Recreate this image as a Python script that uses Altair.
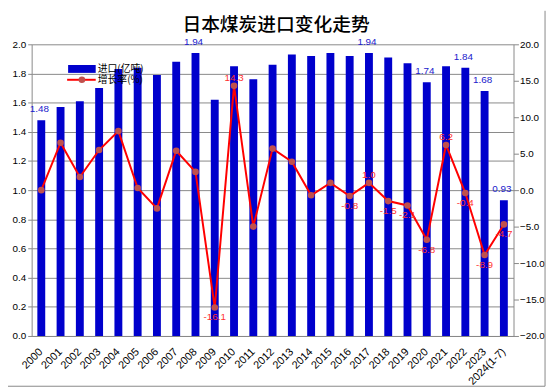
import altair as alt
import pandas as pd

years = ["2000", "2001", "2002", "2003", "2004", "2005", "2006", "2007", "2008", "2009",
         "2010", "2011", "2012", "2013", "2014", "2015", "2016", "2017", "2018", "2019",
         "2020", "2021", "2022", "2023", "2024(1-7)"]
imports = [1.48, 1.57, 1.61, 1.70, 1.83, 1.84, 1.79, 1.88, 1.94, 1.62,
           1.85, 1.76, 1.86, 1.93, 1.92, 1.94, 1.92, 1.94, 1.91, 1.87,
           1.74, 1.85, 1.84, 1.68, 0.93]
growth = [0.0, 6.5, 1.8, 5.5, 8.1, 0.3, -2.5, 5.4, 2.5, -16.1,
          14.3, -5.0, 5.7, 3.9, -0.7, 1.0, -0.8, 1.0, -1.5, -2.1,
          -6.8, 6.2, -0.4, -8.9, -4.7]
import_labels = ["1.48", "", "", "", "", "", "", "", "1.94", "",
                 "", "", "", "", "", "", "", "1.94", "", "",
                 "1.74", "", "1.84", "1.68", "0.93"]
growth_labels = ["", "", "", "", "", "", "", "", "", "-16.1",
                 "14.3", "", "", "", "", "", "-0.8", "1.0", "-1.5", "-2.1",
                 "-6.8", "6.2", "-0.4", "-8.9", "-4.7"]

title_text = "日本煤炭进口变化走势"
legend_bar = "进口(亿吨)"
legend_line = "增长率(%)"

df = pd.DataFrame({
    "year": years,
    "imp": imports,
    "growth": growth,
    "ilabel": import_labels,
    "glabel": growth_labels,
})

W, H = 489, 296
FONT = "Liberation Sans"
CJK = "Noto Sans CJK SC"
GRAY = "#888888"
BLUE = "#0000CC"
RED = "#FF0000"

xenc = alt.X("year:N", sort=years, title=None,
             scale=alt.Scale(paddingInner=0, paddingOuter=0),
             axis=alt.Axis(labelAngle=-45, labelAlign="right", labelBaseline="middle",
                           labelPadding=14, ticks=False, domainColor=GRAY,
                           labelFont=FONT, labelFontSize=11, labelColor="#000000",
                           grid=False))

left_scale = alt.Scale(domain=[0, 2], nice=False, zero=True)
right_scale = alt.Scale(domain=[-20, 20], nice=False, zero=False)

base = alt.Chart(df).encode(x=xenc)

bars = base.mark_bar(color=BLUE, size=8).encode(
    y=alt.Y("imp:Q", scale=left_scale, title=None,
            axis=alt.Axis(orient="left", values=[round(i * 0.2, 1) for i in range(11)],
                          format=".1f", grid=True, gridColor=GRAY, gridOpacity=1,
                          domainColor=GRAY, tickColor=GRAY, tickSize=4, labelPadding=2,
                          labelFont=FONT, labelFontSize=10, labelColor="#000000"))
)

bar_text = base.mark_text(color="#2020CC", font=FONT, fontSize=10, baseline="bottom",
                          dx=-2, dy=-6).encode(
    y=alt.Y("imp:Q", scale=left_scale, axis=None),
    text="ilabel:N",
).transform_filter("datum.ilabel != ''")

line = base.mark_line(color=RED, strokeWidth=2).encode(
    y=alt.Y("growth:Q", scale=right_scale, title=None,
            axis=alt.Axis(orient="right", values=list(range(-20, 21, 5)), format=".1f",
                          grid=False, domainColor=GRAY, tickColor=GRAY, tickSize=5,
                          labelPadding=1, labelFont=FONT, labelFontSize=10,
                          labelColor="#000000"))
)

pts = base.mark_point(filled=True, size=45, color="#C0504D", opacity=1).encode(
    y=alt.Y("growth:Q", scale=right_scale, axis=None)
)

gtext_pos = base.mark_text(color="#FF3030", font=FONT, fontSize=10, baseline="bottom",
                           dy=-3).encode(
    y=alt.Y("growth:Q", scale=right_scale, axis=None),
    text="glabel:N",
).transform_filter("datum.glabel != '' && datum.growth >= 0")

gtext_neg = base.mark_text(color="#FF3030", font=FONT, fontSize=10, baseline="top",
                           dy=5).encode(
    y=alt.Y("growth:Q", scale=right_scale, axis=None),
    text="glabel:N",
).transform_filter("datum.glabel != '' && datum.growth < 0")

one = pd.DataFrame({"k": [0]})
deco = alt.Chart(one)

title = deco.mark_text(font=CJK, fontSize=19, fontWeight=500, color="#000000",
                       align="center", baseline="middle").encode(
    x=alt.value(248), y=alt.value(-19.5), text=alt.value(title_text))

leg_rect = deco.mark_rect(color=BLUE).encode(
    x=alt.value(37), x2=alt.value(65), y=alt.value(21), y2=alt.value(29))
leg_rule = deco.mark_rule(color=RED, strokeWidth=2).encode(
    x=alt.value(36), x2=alt.value(65), y=alt.value(36))
leg_pt = deco.mark_point(filled=True, size=45, color="#C0504D", opacity=1).encode(
    x=alt.value(51), y=alt.value(36))
leg_t1 = deco.mark_text(font=CJK, fontSize=10, color="#000000", align="left",
                        baseline="middle").encode(
    x=alt.value(67), y=alt.value(25), text=alt.value(legend_bar))
leg_t2 = deco.mark_text(font=CJK, fontSize=10, color="#000000", align="left",
                        baseline="middle").encode(
    x=alt.value(67), y=alt.value(36.5), text=alt.value(legend_line))

border_r = deco.mark_rule(color=GRAY, strokeWidth=1).encode(
    x=alt.value(521), y=alt.value(-34), y2=alt.value(347))
border_b = deco.mark_rule(color=GRAY, strokeWidth=1).encode(
    x=alt.value(-24), x2=alt.value(521), y=alt.value(347))

chart = alt.layer(
    bars, bar_text, line, pts, gtext_pos, gtext_neg,
    title, leg_rect, leg_rule, leg_pt, leg_t1, leg_t2, border_r, border_b
).resolve_scale(y="independent").properties(
    width=W, height=H,
    autosize=alt.AutoSizeParams(type="none"),
    padding={"left": 24, "top": 34, "right": 35, "bottom": 54},
    background="white",
).configure_view(stroke="transparent")

chart.save("out.html", embed_options={"renderer": "svg", "actions": False})
